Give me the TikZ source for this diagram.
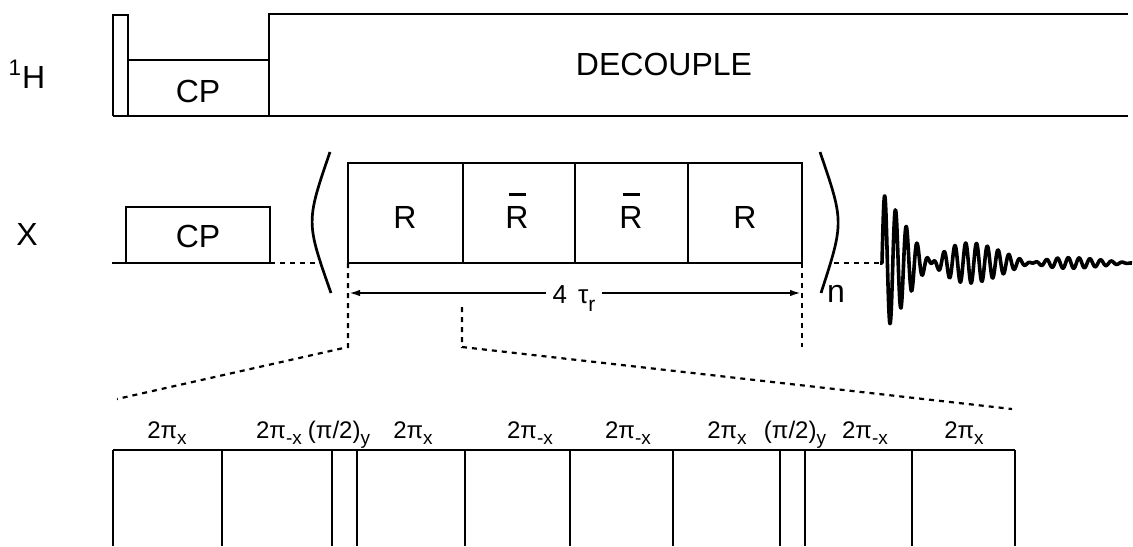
\documentclass[tikz,border=0pt]{standalone}
\usepackage{fontspec}
\setmainfont{Liberation Sans}
\usetikzlibrary{arrows.meta}
\newcommand{\pulsesub}[1]{\raisebox{-3pt}{\fontsize{9.5}{10}\selectfont #1}}

\begin{document}
\begin{tikzpicture}[x=0.5pt,y=-0.5pt,line width=1.35pt,
  big/.style={font=\fontsize{16}{19}\selectfont,anchor=base,inner sep=0pt},
  small/.style={font=\fontsize{12}{14}\selectfont,anchor=base,inner sep=0pt},
  gap/.style={dash pattern=on 2.5pt off 2.5pt,line width=1.1pt},
  fid/.style={line width=1.8pt,line join=round},
  >={Latex[length=6pt,width=3.2pt]}]
\useasboundingbox (0,0) rectangle (1133,546);
% 1H channel
\node[big] (hlab) at (27,88) {\textsuperscript{1}H};
\draw (113,116) -- (113,15) -- (128,15) -- (128,116);
\draw (128,60) -- (269,60);
\draw (269,116) -- (269,14) -- (1128,14);
\draw (113,116) -- (1128,116);
\node[big] (hcp) at (198,102) {CP};
\node[big] (dec) at (664,75) {DECOUPLE};
% X channel
\node[big] (xlab) at (27,245) {X};
\draw (112,263) -- (270,263);
\draw (126,263) -- (126,207) -- (270,207) -- (270,263);
\node[big] (xcp) at (198,247) {CP};
\draw[gap] (270,263) -- (320,263);
\draw (330,152) .. controls (306,222) .. (331,293);
\draw (348,163) rectangle (802,263);
\foreach \xx in {463,575,688} \draw (\xx,163) -- (\xx,263);
\node[big] (r1) at (405,228) {R};
\node[big] (r2) at (517,228) {R};
\node[big] (r3) at (631,228) {R};
\node[big] (r4) at (745,228) {R};
\foreach \r in {r2,r3}
  \draw[line width=1.2pt] ([xshift=-4.25pt,yshift=5pt]\r.north) -- ([xshift=4.25pt,yshift=5pt]\r.north);
\draw (820,152) .. controls (844,222) .. (821,293);
\node[big] (nrep) at (836,302) {n};
\draw[gap] (834,263) -- (880,263);
\draw[fid] (880,263) -- (882,263) -- plot[domain=0:250,samples=700]
  ({\x+882},{263-70*exp(-\x/75)*cos(\x/100*180)*sin(\x/10.8*360)});
% rotor period
\coordinate (al) at (348,293);
\coordinate (ar) at (802,293);
\node[small,font=\fontsize{13}{15}\selectfont,inner xsep=2.5pt] (tau) at (574,303)
  {4\hspace{5.5pt}τ\raisebox{-4pt}{\fontsize{10.5}{11}\selectfont r}};
\draw[<-] (al) -- (tau.west |- al);
\draw[->] (tau.east |- al) -- (ar);
\draw[gap] (348,263) -- (348,347) -- (117,399);
\draw[gap] (802,263) -- (802,347);
\draw[gap] (462,307) -- (462,347) -- (1012,409);
% expanded R element
\draw (113,450) -- (1015,450);
\foreach \xx in {113,222,332,357,465,570,673,780,805,912,1015}
  \draw (\xx,450) -- (\xx,546);
\foreach \xx/\txt [count=\i] in {167/{2π\pulsesub{x}},279/{2π\pulsesub{-x}},
  339/{(π/2)\pulsesub{y}},413/{2π\pulsesub{x}},530/{2π\pulsesub{-x}},
  628/{2π\pulsesub{-x}},727/{2π\pulsesub{x}},795/{(π/2)\pulsesub{y}},
  865/{2π\pulsesub{-x}},964/{2π\pulsesub{x}}}
  \node[small] (p\i) at (\xx,438) {\txt};
\end{tikzpicture}
\end{document}
